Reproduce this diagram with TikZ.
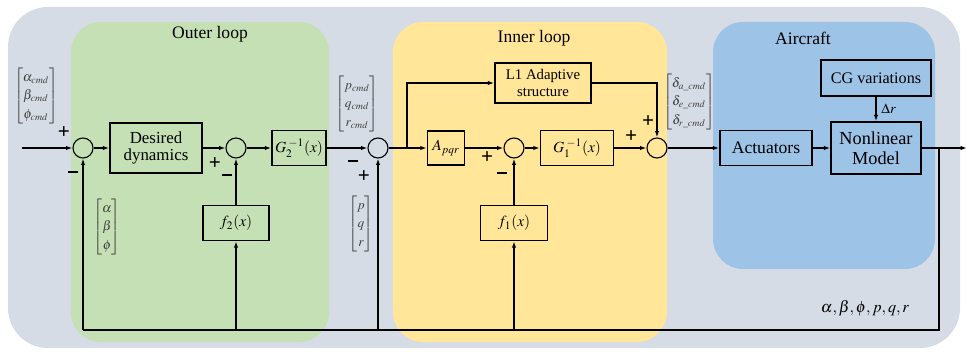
\documentclass[tikz,border=0pt]{standalone}
\usepackage{amsmath}
\usepackage{mathptmx}
\usepackage{fontspec}
\setmainfont{Liberation Serif}
\usepackage{tikz}
\usetikzlibrary{arrows.meta, positioning}
\definecolor{panelGray}{HTML}{D6DCE5}
\definecolor{outerGreen}{HTML}{C5E0B4}
\definecolor{innerYellow}{HTML}{FFE699}
\definecolor{planeBlue}{HTML}{9DC3E6}
\newcommand{\minusSign}{\rule{2.3mm}{0.5mm}}
\tikzset{
    regionBox/.style={rounded corners=0.75cm, draw=none},
    blockBox/.style={rectangle, draw=black, line width=1.1pt, align=center, inner sep=1pt},
    sumNode/.style={circle, draw=black, line width=0.8pt, fill=none, inner sep=0pt, minimum size=5mm},
    signLbl/.style={font=\fontsize{15}{15}\selectfont\bfseries, inner sep=0pt},
    vecLbl/.style={text=black!75, inner sep=0pt, font=\fontsize{9.5}{11}\selectfont\renewcommand{\arraystretch}{1.2}}
}
\begin{document}
\begin{tikzpicture}[>={Latex[length=1.6mm, width=1.1mm]}, line width=1.1pt]
    \useasboundingbox (0,0) rectangle (24.2,-8.925);
    % panels
    \fill[panelGray, rounded corners=1cm] (0.2,-0.175) rectangle (24.0,-8.7);
    \fill[regionBox, outerGreen] (1.775,-0.55) rectangle (8.225,-8.55);
    \fill[regionBox, innerYellow] (9.825,-0.55) rectangle (16.675,-8.55);
    \fill[regionBox, planeBlue] (17.825,-0.55) rectangle (23.375,-6.725);
    \node[font=\fontsize{12.5}{13}\selectfont] (OuterTtl) at (5.25,-0.85) {Outer loop};
    \node[font=\fontsize{12.5}{13}\selectfont] (InnerTtl) at (13.35,-0.95) {Inner loop};
    \node[font=\fontsize{12.5}{13}\selectfont] (PlaneTtl) at (20.075,-0.95) {Aircraft};
    % blocks
    \node[sumNode] (Sum1) at (2.075,-3.7) {};
    \node[blockBox, minimum width=2.3cm, minimum height=1.25cm, font=\fontsize{12}{12.5}\selectfont] (DesDyn) at (3.9,-3.7) {Desired\\dynamics};
    \node[sumNode] (Sum2) at (5.9,-3.7) {};
    \node[blockBox, minimum width=1.35cm, minimum height=0.875cm, font=\fontsize{11}{12}\selectfont] (G2inv) at (7.475,-3.7) {$G_2^{\;-1}(x)$};
    \node[blockBox, minimum width=1.65cm, minimum height=0.875cm, font=\fontsize{11}{12}\selectfont] (f2Blk) at (5.9,-5.575) {$f_2(x)$};
    \node[sumNode] (Sum3) at (9.45,-3.7) {};
    \node[blockBox, minimum width=0.925cm, minimum height=0.85cm, font=\fontsize{11}{12}\selectfont] (Apqr) at (11.15,-3.7) {$A_{pqr}$};
    \node[sumNode] (Sum4) at (12.85,-3.7) {};
    \node[blockBox, minimum width=1.825cm, minimum height=0.875cm, font=\fontsize{11}{12}\selectfont] (G1inv) at (14.425,-3.7) {$G_1^{\;-1}(x)$};
    \node[blockBox, minimum width=1.675cm, minimum height=0.875cm, font=\fontsize{11}{12}\selectfont] (f1Blk) at (12.85,-5.575) {$f_1(x)$};
    \node[blockBox, minimum width=2.4cm, minimum height=1.0cm, font=\fontsize{10.5}{11.5}\selectfont] (L1Blk) at (13.575,-2.075) {L1 Adaptive\\structure};
    \node[sumNode] (Sum5) at (16.425,-3.7) {};
    \node[blockBox, minimum width=2.3cm, minimum height=0.875cm, font=\fontsize{12.5}{13}\selectfont] (ActBlk) at (19.15,-3.7) {Actuators};
    \node[blockBox, minimum width=2.25cm, minimum height=1.3cm, font=\fontsize{13}{14}\selectfont] (NlmBlk) at (21.9,-3.7) {Nonlinear\\Model};
    \node[blockBox, minimum width=2.75cm, minimum height=0.9cm, font=\fontsize{11.5}{12}\selectfont] (CgBlk) at (21.9,-1.95) {CG variations};
    % vectors
    \node[vecLbl] (CmdVec) at (0.9,-2.4) {$\begin{bmatrix}\alpha_{cmd}\\ \beta_{cmd}\\ \phi_{cmd}\end{bmatrix}$};
    \node[vecLbl] (AttVec) at (2.675,-5.675) {$\begin{bmatrix}\alpha\\ \beta\\ \phi\end{bmatrix}$};
    \node[vecLbl] (RateCmd) at (8.925,-2.6) {$\begin{bmatrix}p_{cmd}\\ q_{cmd}\\ r_{cmd}\end{bmatrix}$};
    \node[vecLbl] (RateVec) at (9.025,-5.6) {$\begin{bmatrix}p\\ q\\ r\end{bmatrix}$};
    \node[vecLbl] (DefVec) at (17.225,-2.55) {$\begin{bmatrix}\delta_{a\_cmd}\\ \delta_{e\_cmd}\\ \delta_{r\_cmd}\end{bmatrix}$};
    \node[font=\fontsize{11.5}{12}\selectfont] (StateLbl) at (21.625,-7.7) {$\alpha,\beta,\phi,p,q,r$};
    % signs
    \node[signLbl] (s1p) at (1.6,-3.325) {+};
    \node[signLbl] (s1m) at (1.825,-4.3) {\minusSign};
    \node[signLbl] (s2p) at (5.375,-4.1) {+};
    \node[signLbl] (s2m) at (5.675,-4.375) {\minusSign};
    \node[signLbl] (s3m) at (8.825,-4.025) {\minusSign};
    \node[signLbl] (s3p) at (9.1,-4.425) {+};
    \node[signLbl] (s4p) at (12.175,-3.95) {+};
    \node[signLbl] (s4m) at (12.55,-4.325) {\minusSign};
    \node[signLbl] (s5p) at (15.775,-3.425) {+};
    \node[signLbl] (s5q) at (16.2,-3.05) {+};
    % connectors
    \coordinate (InPt) at (0.55,-3.7);
    \coordinate (OutPt) at (24.175,-3.7);
    \coordinate (BrL1) at (10.175,-3.7);
    \coordinate (FbTop) at (23.475,-3.7);
    \coordinate (FbBot) at (23.475,-8.25);
    \draw[->] (InPt) -- (Sum1);
    \draw[->] (Sum1) -- (DesDyn);
    \draw[->] (DesDyn) -- (Sum2);
    \draw[->] (Sum2) -- (G2inv);
    \draw[->] (G2inv) -- (Sum3);
    \draw[->] (Sum3) -- (Apqr);
    \draw[->] (BrL1) |- (L1Blk.west);
    \draw[->] (Apqr) -- (Sum4);
    \draw[->] (Sum4) -- (G1inv);
    \draw[->] (G1inv) -- (Sum5);
    \draw[->] (L1Blk.east) -| (Sum5.north);
    \draw[->] (Sum5) -- (ActBlk);
    \draw[->] (ActBlk) -- (NlmBlk);
    \draw[->] (CgBlk) -- (NlmBlk) node[midway, right, font=\fontsize{10}{11}\selectfont]{$\Delta r$};
    \draw[->] (NlmBlk) -- (OutPt);
    % feedback
    \draw (FbTop) -- (FbBot) -- (Sum1 |- FbBot);
    \draw[->] (Sum1 |- FbBot) -- (Sum1);
    \draw[->] (f2Blk |- FbBot) -- (f2Blk);
    \draw[->] (f2Blk) -- (Sum2);
    \draw[->] (Sum3 |- FbBot) -- (Sum3);
    \draw[->] (f1Blk |- FbBot) -- (f1Blk);
    \draw[->] (f1Blk) -- (Sum4);
\end{tikzpicture}
\end{document}
